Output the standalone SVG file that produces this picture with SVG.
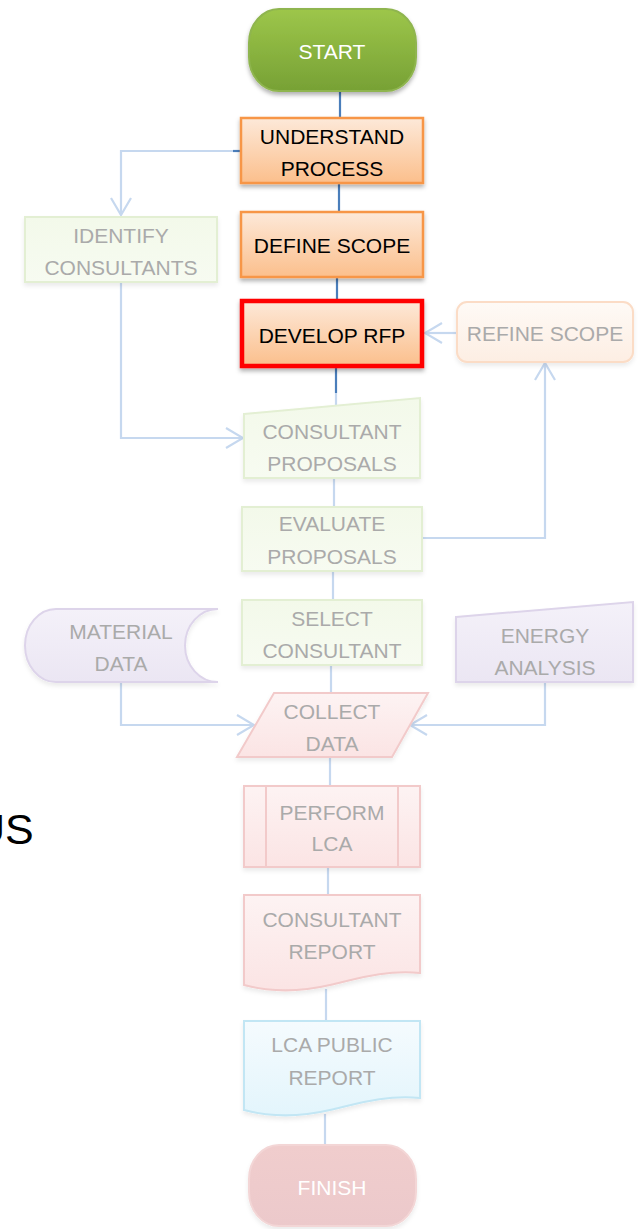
<svg xmlns="http://www.w3.org/2000/svg" width="640" height="1229" viewBox="0 0 640 1229">
<defs>
<linearGradient id="gGreen" x1="0" y1="0" x2="0" y2="1"><stop offset="0" stop-color="#9dc64a"/><stop offset="1" stop-color="#77a135"/></linearGradient>
<linearGradient id="gOrange" x1="0" y1="0" x2="0" y2="1"><stop offset="0" stop-color="#fde9d9"/><stop offset="1" stop-color="#fbbf8c"/></linearGradient>
<linearGradient id="gLGreen" x1="0" y1="0" x2="0" y2="1"><stop offset="0" stop-color="#f3f9ea"/><stop offset="1" stop-color="#f7fbf1"/></linearGradient>
<linearGradient id="gPeach" x1="0" y1="0" x2="0" y2="1"><stop offset="0" stop-color="#fefaf6"/><stop offset="1" stop-color="#fdeee3"/></linearGradient>
<linearGradient id="gLav" x1="0" y1="0" x2="0" y2="1"><stop offset="0" stop-color="#f4f1f9"/><stop offset="1" stop-color="#ebe6f3"/></linearGradient>
<linearGradient id="gPink" x1="0" y1="0" x2="0" y2="1"><stop offset="0" stop-color="#fdf3f3"/><stop offset="1" stop-color="#fbe4e4"/></linearGradient>
<linearGradient id="gBlue" x1="0" y1="0" x2="0" y2="1"><stop offset="0" stop-color="#f5fbfe"/><stop offset="1" stop-color="#e3f5fc"/></linearGradient>
<linearGradient id="gFinish" x1="0" y1="0" x2="0" y2="1"><stop offset="0" stop-color="#f0cdcd"/><stop offset="1" stop-color="#ecc9cb"/></linearGradient>
<filter id="sh" x="-10%" y="-10%" width="120%" height="140%"><feDropShadow dx="0" dy="3" stdDeviation="2" flood-color="#000" flood-opacity="0.3"/></filter>
<filter id="shl" x="-10%" y="-10%" width="120%" height="140%"><feDropShadow dx="0" dy="3" stdDeviation="2" flood-color="#000" flood-opacity="0.08"/></filter>
<marker id="arr" markerUnits="userSpaceOnUse" viewBox="0 0 20 22" refX="18" refY="11" markerWidth="20" markerHeight="22" orient="auto">
<path d="M1,1 L18,11 L1,21" fill="none" stroke="#c6d8ef" stroke-width="2.2"/>
</marker>
<style>
text{font-family:"Liberation Sans",Arial,sans-serif;font-size:21px;text-anchor:middle}
.dk{fill:#000}
.wt{fill:#fff}
.gr{fill:#aaaaaa}
.cd{stroke:#4a7ebb;stroke-width:2.2;fill:none}
.cl{stroke:#c6d8ef;stroke-width:2.2;fill:none}
.or{fill:url(#gOrange);stroke:#f79646;stroke-width:2.5}
.lg{fill:url(#gLGreen);stroke:#e3efd3;stroke-width:2}
</style>
</defs>
<rect width="640" height="1229" fill="#fff"/>

<text x="-26" y="844" style="font-size:43px;text-anchor:start" class="dk">US</text>

<g id="connectors">
<line class="cd" x1="340" y1="90" x2="340" y2="118"/>
<line class="cd" x1="339" y1="183" x2="339" y2="212"/>
<line class="cd" x1="337" y1="277" x2="337" y2="300"/>
<line class="cd" x1="336" y1="367" x2="336" y2="393"/>
<line class="cl" x1="336" y1="393" x2="336" y2="405"/>
<path class="cl" d="M234,151 H121 V215" marker-end="url(#arr)"/>
<line class="cd" x1="233" y1="151" x2="241" y2="151"/>
<path class="cl" d="M121,282 V438 H243" marker-end="url(#arr)"/>
<line class="cl" x1="334" y1="478" x2="334" y2="507"/>
<path class="cl" d="M422,538 H545 V363" marker-end="url(#arr)"/>
<path class="cl" d="M457,333 H425" marker-end="url(#arr)"/>
<line class="cl" x1="333" y1="571" x2="333" y2="600"/>
<line class="cl" x1="331" y1="665" x2="331" y2="693"/>
<path class="cl" d="M121,682 V725 H254" marker-end="url(#arr)"/>
<path class="cl" d="M545,682 V725 H410" marker-end="url(#arr)"/>
<line class="cl" x1="330" y1="757" x2="330" y2="786"/>
<line class="cl" x1="328" y1="867" x2="328" y2="895"/>
<line class="cl" x1="326" y1="989" x2="326" y2="1021"/>
<line class="cl" x1="325" y1="1114" x2="325" y2="1145"/>
</g>

<g id="start">
<rect x="249" y="9" width="167" height="82" rx="30" ry="34" fill="url(#gGreen)" stroke="#8fb54f" stroke-width="2" filter="url(#sh)"/>
<text x="332" y="58.5" class="wt">START</text>
</g>

<g id="understand">
<rect class="or" x="241" y="118" width="182" height="65" filter="url(#sh)"/>
<text x="332" y="143.5" class="dk">UNDERSTAND</text>
<text x="332" y="175.5" class="dk">PROCESS</text>
</g>

<g id="define">
<rect class="or" x="241" y="212" width="182" height="65" filter="url(#sh)"/>
<text x="332" y="252.5" class="dk">DEFINE SCOPE</text>
</g>

<g id="identify">
<rect class="lg" x="25" y="217" width="192" height="65" filter="url(#shl)"/>
<text x="121" y="242.5" class="gr">IDENTIFY</text>
<text x="121" y="274.5" class="gr">CONSULTANTS</text>
</g>

<g id="develop">
<rect x="242" y="301" width="180" height="65" fill="url(#gOrange)" stroke="#ff0000" stroke-width="4.5" filter="url(#sh)"/>
<text x="332" y="342.5" class="dk">DEVELOP RFP</text>
</g>

<g id="refine">
<rect x="457" y="302" width="176" height="60" rx="10" fill="url(#gPeach)" stroke="#fbdcc6" stroke-width="2" filter="url(#shl)"/>
<text x="545" y="340.5" class="gr">REFINE SCOPE</text>
</g>

<g id="proposals">
<path class="lg" d="M244,414 L420,398 L420,478 L244,478 Z" filter="url(#shl)"/>
<text x="332" y="438.5" class="gr">CONSULTANT</text>
<text x="332" y="470.5" class="gr">PROPOSALS</text>
</g>

<g id="evaluate">
<rect class="lg" x="242" y="507" width="180" height="64" filter="url(#shl)"/>
<text x="332" y="530.5" class="gr">EVALUATE</text>
<text x="332" y="563.5" class="gr">PROPOSALS</text>
</g>

<g id="select">
<rect class="lg" x="242" y="600" width="180" height="65" filter="url(#shl)"/>
<text x="332" y="625.5" class="gr">SELECT</text>
<text x="332" y="657.5" class="gr">CONSULTANT</text>
</g>

<g id="material">
<path d="M218,609 H56 A31,36.5 0 0 0 56,682 H218 A33,36.5 0 0 1 218,609 Z" fill="url(#gLav)" stroke="#ddd4ea" stroke-width="2" filter="url(#shl)"/>
<text x="121" y="638.5" class="gr">MATERIAL</text>
<text x="121" y="670.5" class="gr">DATA</text>
</g>

<g id="energy">
<path d="M456,617 L633,602 L633,682 L456,682 Z" fill="url(#gLav)" stroke="#ddd4ea" stroke-width="2" filter="url(#shl)"/>
<text x="545" y="642.5" class="gr">ENERGY</text>
<text x="545" y="674.5" class="gr">ANALYSIS</text>
</g>

<g id="collect">
<path d="M274,693 L428,693 L392,757 L237,757 Z" fill="url(#gPink)" stroke="#f2caca" stroke-width="2" filter="url(#shl)"/>
<text x="332" y="718.5" class="gr">COLLECT</text>
<text x="332" y="750.5" class="gr">DATA</text>
</g>

<g id="perform">
<rect x="244" y="786" width="176" height="81" fill="url(#gPink)" stroke="#f2caca" stroke-width="2" filter="url(#shl)"/>
<line x1="266" y1="786" x2="266" y2="867" stroke="#f2caca" stroke-width="2"/>
<line x1="398" y1="786" x2="398" y2="867" stroke="#f2caca" stroke-width="2"/>
<text x="332" y="819.5" class="gr">PERFORM</text>
<text x="332" y="850.5" class="gr">LCA</text>
</g>

<g id="report">
<path d="M244,895 H420 V973 C385,970 360,978 330,985 C300,992 270,992 244,985 Z" fill="url(#gPink)" stroke="#f2caca" stroke-width="2" filter="url(#shl)"/>
<text x="332" y="926.5" class="gr">CONSULTANT</text>
<text x="332" y="958.5" class="gr">REPORT</text>
</g>

<g id="public">
<path d="M244,1021 H420 V1098 C385,1095 360,1103 330,1110 C300,1117 270,1117 244,1110 Z" fill="url(#gBlue)" stroke="#c2e6f4" stroke-width="2" filter="url(#shl)"/>
<text x="332" y="1051.5" class="gr">LCA PUBLIC</text>
<text x="332" y="1084.5" class="gr">REPORT</text>
</g>

<g id="finish">
<rect x="249" y="1145" width="167" height="81" rx="30" ry="34" fill="url(#gFinish)" stroke="#f3d6d6" stroke-width="2" filter="url(#shl)"/>
<text x="332" y="1194.5" class="wt">FINISH</text>
</g>
</svg>
